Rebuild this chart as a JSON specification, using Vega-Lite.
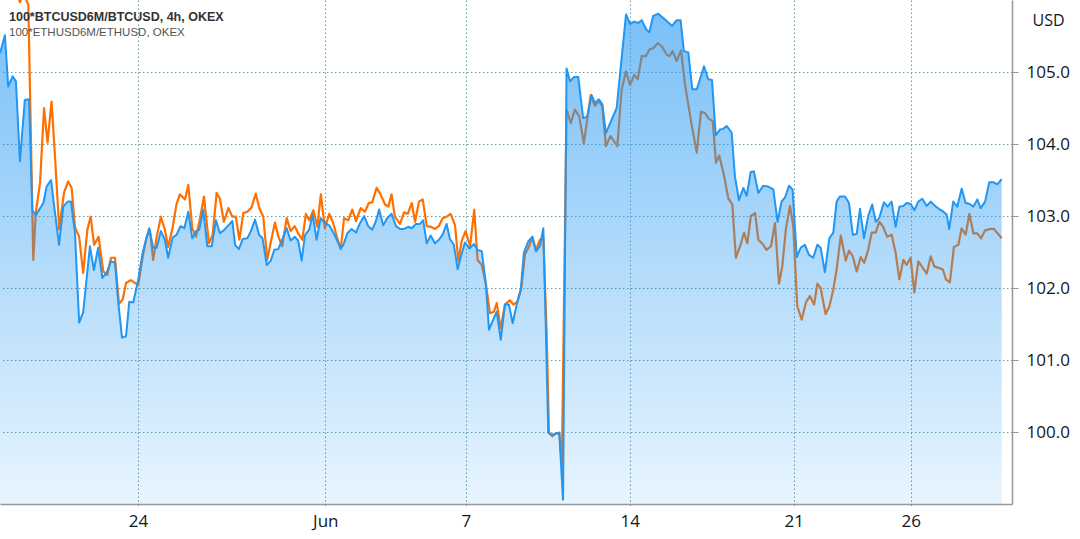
{
  "$schema": "https://vega.github.io/schema/vega-lite/v6.json",
  "width": 1012,
  "height": 504,
  "autosize": {"type": "none"},
  "padding": {"left": 0, "top": 0, "right": 68, "bottom": 35},
  "background": "#ffffff",
  "config": {"view": {"stroke": null}},
  "title": {
    "text": "100*BTCUSD6M/BTCUSD, 4h, OKEX",
    "subtitle": "100*ETHUSD6M/ETHUSD, OKEX",
    "anchor": "start",
    "orient": "top",
    "frame": "group",
    "offset": -38,
    "dx": 9,
    "font": "Liberation Sans",
    "fontSize": 12.5,
    "fontWeight": "bold",
    "color": "#333333",
    "subtitleFont": "Liberation Sans",
    "subtitleFontSize": 11.5,
    "subtitleColor": "#555555",
    "subtitlePadding": 3
  },
  "datasets": {
    "btc": [
      {"day": -5.89, "v": 105.26}, {"day": -5.68, "v": 105.51}, {"day": -5.54, "v": 104.80}, {"day": -5.35, "v": 104.94}, {"day": -5.21, "v": 104.87},
      {"day": -5.04, "v": 103.76}, {"day": -4.83, "v": 104.61}, {"day": -4.65, "v": 104.62}, {"day": -4.51, "v": 103.08}, {"day": -4.36, "v": 103.01},
      {"day": -4.04, "v": 103.18}, {"day": -3.90, "v": 103.41}, {"day": -3.71, "v": 103.50}, {"day": -3.54, "v": 103.04}, {"day": -3.37, "v": 102.60},
      {"day": -3.19, "v": 103.13}, {"day": -3.00, "v": 103.20}, {"day": -2.86, "v": 103.20}, {"day": -2.69, "v": 102.77}, {"day": -2.51, "v": 101.52},
      {"day": -2.34, "v": 101.66}, {"day": -2.05, "v": 102.58}, {"day": -1.88, "v": 102.25}, {"day": -1.70, "v": 102.56}, {"day": -1.52, "v": 102.14},
      {"day": -1.34, "v": 102.21}, {"day": -1.15, "v": 102.37}, {"day": -0.98, "v": 102.35}, {"day": -0.84, "v": 101.80}, {"day": -0.68, "v": 101.31},
      {"day": -0.51, "v": 101.33}, {"day": -0.37, "v": 101.81}, {"day": -0.20, "v": 101.80}, {"day": 0.01, "v": 102.11}, {"day": 0.20, "v": 102.49},
      {"day": 0.37, "v": 102.70}, {"day": 0.48, "v": 102.83}, {"day": 0.65, "v": 102.56}, {"day": 0.80, "v": 102.56}, {"day": 0.98, "v": 102.79},
      {"day": 1.15, "v": 102.67}, {"day": 1.29, "v": 102.42}, {"day": 1.48, "v": 102.70}, {"day": 1.65, "v": 102.74}, {"day": 1.82, "v": 102.86},
      {"day": 1.98, "v": 102.83}, {"day": 2.15, "v": 103.06}, {"day": 2.32, "v": 102.69}, {"day": 2.48, "v": 102.79}, {"day": 2.62, "v": 102.81},
      {"day": 2.79, "v": 103.09}, {"day": 2.96, "v": 102.58}, {"day": 3.15, "v": 102.58}, {"day": 3.33, "v": 102.94}, {"day": 3.50, "v": 102.76},
      {"day": 3.69, "v": 102.81}, {"day": 3.86, "v": 102.87}, {"day": 4.03, "v": 102.93}, {"day": 4.15, "v": 102.60}, {"day": 4.31, "v": 102.54},
      {"day": 4.47, "v": 102.68}, {"day": 4.67, "v": 102.69}, {"day": 4.82, "v": 102.79}, {"day": 5.00, "v": 102.95}, {"day": 5.17, "v": 102.74},
      {"day": 5.32, "v": 102.69}, {"day": 5.50, "v": 102.32}, {"day": 5.67, "v": 102.38}, {"day": 5.82, "v": 102.53}, {"day": 5.99, "v": 102.54},
      {"day": 6.18, "v": 102.69}, {"day": 6.35, "v": 102.83}, {"day": 6.52, "v": 102.66}, {"day": 6.70, "v": 102.71}, {"day": 6.84, "v": 102.66},
      {"day": 6.99, "v": 102.38}, {"day": 7.13, "v": 102.73}, {"day": 7.31, "v": 102.81}, {"day": 7.46, "v": 103.02}, {"day": 7.63, "v": 102.67},
      {"day": 7.80, "v": 102.97}, {"day": 7.98, "v": 102.90}, {"day": 8.17, "v": 102.87}, {"day": 8.34, "v": 102.77}, {"day": 8.48, "v": 102.68},
      {"day": 8.66, "v": 102.55}, {"day": 8.77, "v": 102.60}, {"day": 8.94, "v": 102.76}, {"day": 9.12, "v": 102.82}, {"day": 9.31, "v": 102.77},
      {"day": 9.48, "v": 102.90}, {"day": 9.66, "v": 103.00}, {"day": 9.83, "v": 102.86}, {"day": 10.00, "v": 102.81}, {"day": 10.15, "v": 102.92},
      {"day": 10.30, "v": 103.09}, {"day": 10.47, "v": 102.87}, {"day": 10.64, "v": 102.97}, {"day": 10.83, "v": 103.03}, {"day": 11.02, "v": 102.86},
      {"day": 11.19, "v": 102.82}, {"day": 11.36, "v": 102.82}, {"day": 11.54, "v": 102.85}, {"day": 11.69, "v": 102.83}, {"day": 11.87, "v": 102.89},
      {"day": 12.04, "v": 102.89}, {"day": 12.18, "v": 102.94}, {"day": 12.33, "v": 102.62}, {"day": 12.50, "v": 102.73}, {"day": 12.68, "v": 102.62},
      {"day": 12.85, "v": 102.67}, {"day": 13.01, "v": 102.74}, {"day": 13.18, "v": 102.89}, {"day": 13.32, "v": 102.68}, {"day": 13.49, "v": 102.60},
      {"day": 13.65, "v": 102.26}, {"day": 13.79, "v": 102.44}, {"day": 13.96, "v": 102.63}, {"day": 14.15, "v": 102.55}, {"day": 14.35, "v": 102.61},
      {"day": 14.50, "v": 102.53}, {"day": 14.68, "v": 102.51}, {"day": 14.85, "v": 102.07}, {"day": 14.99, "v": 101.42}, {"day": 15.17, "v": 101.56},
      {"day": 15.32, "v": 101.67}, {"day": 15.49, "v": 101.28}, {"day": 15.67, "v": 101.77}, {"day": 15.84, "v": 101.77}, {"day": 16.00, "v": 101.51},
      {"day": 16.17, "v": 101.77}, {"day": 16.34, "v": 101.96}, {"day": 16.48, "v": 102.49}, {"day": 16.67, "v": 102.65}, {"day": 16.84, "v": 102.71},
      {"day": 16.99, "v": 102.51}, {"day": 17.16, "v": 102.58}, {"day": 17.31, "v": 102.83}, {"day": 17.42, "v": 101.38}, {"day": 17.52, "v": 99.99},
      {"day": 17.66, "v": 99.96}, {"day": 17.85, "v": 99.98}, {"day": 17.99, "v": 99.99}, {"day": 18.15, "v": 99.06}, {"day": 18.30, "v": 105.05},
      {"day": 18.45, "v": 104.87}, {"day": 18.62, "v": 104.93}, {"day": 18.80, "v": 104.93}, {"day": 19.01, "v": 104.36}, {"day": 19.18, "v": 104.38},
      {"day": 19.37, "v": 104.68}, {"day": 19.51, "v": 104.57}, {"day": 19.68, "v": 104.62}, {"day": 19.83, "v": 104.55}, {"day": 19.98, "v": 104.15},
      {"day": 20.44, "v": 104.50}, {"day": 20.84, "v": 105.80}, {"day": 21.01, "v": 105.67}, {"day": 21.19, "v": 105.70}, {"day": 21.36, "v": 105.68},
      {"day": 21.51, "v": 105.72}, {"day": 21.69, "v": 105.60}, {"day": 21.83, "v": 105.55}, {"day": 22.00, "v": 105.78}, {"day": 22.22, "v": 105.81},
      {"day": 22.43, "v": 105.75}, {"day": 22.60, "v": 105.70}, {"day": 22.81, "v": 105.64}, {"day": 23.00, "v": 105.72}, {"day": 23.17, "v": 105.72},
      {"day": 23.31, "v": 105.29}, {"day": 23.50, "v": 105.27}, {"day": 23.67, "v": 104.76}, {"day": 23.86, "v": 104.76}, {"day": 24.17, "v": 105.08},
      {"day": 24.35, "v": 104.90}, {"day": 24.51, "v": 104.89}, {"day": 24.67, "v": 104.12}, {"day": 24.85, "v": 104.20}, {"day": 24.99, "v": 104.21},
      {"day": 25.14, "v": 104.25}, {"day": 25.35, "v": 104.16}, {"day": 25.49, "v": 103.55}, {"day": 25.66, "v": 103.22}, {"day": 25.85, "v": 103.39},
      {"day": 25.99, "v": 103.28}, {"day": 26.16, "v": 103.61}, {"day": 26.30, "v": 103.62}, {"day": 26.49, "v": 103.32}, {"day": 26.70, "v": 103.42},
      {"day": 26.89, "v": 103.41}, {"day": 27.13, "v": 103.37}, {"day": 27.31, "v": 102.92}, {"day": 27.48, "v": 103.20}, {"day": 27.63, "v": 103.26},
      {"day": 27.80, "v": 103.42}, {"day": 27.95, "v": 103.37}, {"day": 28.13, "v": 102.43}, {"day": 28.30, "v": 102.56}, {"day": 28.48, "v": 102.60},
      {"day": 28.65, "v": 102.46}, {"day": 28.83, "v": 102.42}, {"day": 29.01, "v": 102.60}, {"day": 29.15, "v": 102.56}, {"day": 29.33, "v": 102.22},
      {"day": 29.52, "v": 102.69}, {"day": 29.69, "v": 102.77}, {"day": 29.83, "v": 103.20}, {"day": 29.97, "v": 103.27}, {"day": 30.19, "v": 103.27},
      {"day": 30.36, "v": 103.18}, {"day": 30.52, "v": 102.74}, {"day": 30.69, "v": 102.75}, {"day": 30.83, "v": 103.10}, {"day": 31.00, "v": 102.69},
      {"day": 31.18, "v": 103.00}, {"day": 31.35, "v": 103.16}, {"day": 31.50, "v": 102.92}, {"day": 31.65, "v": 102.97}, {"day": 31.85, "v": 103.19},
      {"day": 32.01, "v": 103.13}, {"day": 32.18, "v": 103.20}, {"day": 32.35, "v": 102.85}, {"day": 32.51, "v": 103.13}, {"day": 32.68, "v": 103.14},
      {"day": 32.82, "v": 103.18}, {"day": 32.99, "v": 103.17}, {"day": 33.15, "v": 103.08}, {"day": 33.32, "v": 103.20}, {"day": 33.49, "v": 103.24},
      {"day": 33.68, "v": 103.14}, {"day": 33.85, "v": 103.20}, {"day": 34.03, "v": 103.14}, {"day": 34.20, "v": 103.10}, {"day": 34.39, "v": 103.06},
      {"day": 34.53, "v": 103.02}, {"day": 34.64, "v": 102.82}, {"day": 34.81, "v": 103.20}, {"day": 34.98, "v": 103.13}, {"day": 35.17, "v": 103.38},
      {"day": 35.34, "v": 103.18}, {"day": 35.50, "v": 103.17}, {"day": 35.67, "v": 103.13}, {"day": 35.84, "v": 103.23}, {"day": 35.98, "v": 103.11},
      {"day": 36.17, "v": 103.20}, {"day": 36.35, "v": 103.47}, {"day": 36.52, "v": 103.47}, {"day": 36.69, "v": 103.44}, {"day": 36.88, "v": 103.51}
    ],
    "eth": [
      {"day": -5.89, "v": 106.56}, {"day": -5.38, "v": 106.42}, {"day": -5.04, "v": 105.97}, {"day": -4.87, "v": 106.08}, {"day": -4.68, "v": 105.93},
      {"day": -4.51, "v": 103.09}, {"day": -4.47, "v": 102.39}, {"day": -4.36, "v": 103.05}, {"day": -4.18, "v": 103.46}, {"day": -4.01, "v": 104.50},
      {"day": -3.86, "v": 104.02}, {"day": -3.69, "v": 104.59}, {"day": -3.54, "v": 103.82}, {"day": -3.36, "v": 102.81}, {"day": -3.16, "v": 103.32},
      {"day": -2.98, "v": 103.48}, {"day": -2.83, "v": 103.39}, {"day": -2.69, "v": 102.85}, {"day": -2.51, "v": 102.71}, {"day": -2.34, "v": 102.21},
      {"day": -2.16, "v": 102.81}, {"day": -2.02, "v": 102.99}, {"day": -1.87, "v": 102.60}, {"day": -1.68, "v": 102.71}, {"day": -1.48, "v": 102.23},
      {"day": -1.31, "v": 102.18}, {"day": -1.15, "v": 102.42}, {"day": -0.98, "v": 102.42}, {"day": -0.81, "v": 101.78}, {"day": -0.65, "v": 101.84},
      {"day": -0.51, "v": 102.07}, {"day": -0.31, "v": 102.11}, {"day": -0.13, "v": 102.07}, {"day": 0.01, "v": 102.04}, {"day": 0.20, "v": 102.43},
      {"day": 0.37, "v": 102.71}, {"day": 0.51, "v": 102.81}, {"day": 0.65, "v": 102.39}, {"day": 0.80, "v": 102.71}, {"day": 0.98, "v": 102.99},
      {"day": 1.15, "v": 102.81}, {"day": 1.29, "v": 102.57}, {"day": 1.48, "v": 102.84}, {"day": 1.65, "v": 103.17}, {"day": 1.79, "v": 103.30},
      {"day": 2.01, "v": 103.23}, {"day": 2.15, "v": 103.43}, {"day": 2.32, "v": 102.83}, {"day": 2.48, "v": 102.71}, {"day": 2.65, "v": 102.97},
      {"day": 2.82, "v": 103.27}, {"day": 3.03, "v": 102.62}, {"day": 3.19, "v": 102.74}, {"day": 3.36, "v": 103.32}, {"day": 3.50, "v": 103.24},
      {"day": 3.67, "v": 102.92}, {"day": 3.86, "v": 103.11}, {"day": 4.03, "v": 102.99}, {"day": 4.18, "v": 102.99}, {"day": 4.33, "v": 102.67},
      {"day": 4.50, "v": 103.04}, {"day": 4.67, "v": 103.06}, {"day": 4.85, "v": 103.12}, {"day": 5.03, "v": 103.31}, {"day": 5.18, "v": 103.11},
      {"day": 5.35, "v": 102.99}, {"day": 5.52, "v": 102.39}, {"day": 5.68, "v": 102.65}, {"day": 5.85, "v": 102.91}, {"day": 5.99, "v": 102.72},
      {"day": 6.16, "v": 102.58}, {"day": 6.35, "v": 102.97}, {"day": 6.52, "v": 102.79}, {"day": 6.69, "v": 102.86}, {"day": 6.84, "v": 102.76},
      {"day": 7.02, "v": 102.67}, {"day": 7.17, "v": 103.03}, {"day": 7.31, "v": 102.94}, {"day": 7.49, "v": 103.08}, {"day": 7.66, "v": 102.85},
      {"day": 7.81, "v": 103.30}, {"day": 7.98, "v": 102.83}, {"day": 8.17, "v": 103.03}, {"day": 8.34, "v": 102.90}, {"day": 8.51, "v": 102.69},
      {"day": 8.66, "v": 102.54}, {"day": 8.80, "v": 102.97}, {"day": 8.98, "v": 102.94}, {"day": 9.15, "v": 103.09}, {"day": 9.31, "v": 102.93},
      {"day": 9.51, "v": 103.11}, {"day": 9.69, "v": 103.06}, {"day": 9.86, "v": 103.18}, {"day": 10.00, "v": 103.19}, {"day": 10.19, "v": 103.39},
      {"day": 10.36, "v": 103.30}, {"day": 10.55, "v": 103.16}, {"day": 10.69, "v": 103.13}, {"day": 10.83, "v": 103.30}, {"day": 10.97, "v": 102.99},
      {"day": 11.19, "v": 102.89}, {"day": 11.36, "v": 103.05}, {"day": 11.52, "v": 103.03}, {"day": 11.69, "v": 103.18}, {"day": 11.83, "v": 102.92},
      {"day": 12.00, "v": 103.20}, {"day": 12.16, "v": 103.23}, {"day": 12.33, "v": 102.86}, {"day": 12.50, "v": 102.85}, {"day": 12.68, "v": 102.82},
      {"day": 12.85, "v": 102.86}, {"day": 13.01, "v": 102.97}, {"day": 13.18, "v": 102.99}, {"day": 13.35, "v": 103.03}, {"day": 13.54, "v": 102.87},
      {"day": 13.68, "v": 102.37}, {"day": 13.82, "v": 102.65}, {"day": 13.99, "v": 102.79}, {"day": 14.18, "v": 102.58}, {"day": 14.36, "v": 103.09},
      {"day": 14.50, "v": 102.39}, {"day": 14.68, "v": 102.32}, {"day": 14.85, "v": 102.07}, {"day": 15.03, "v": 101.65}, {"day": 15.20, "v": 101.67},
      {"day": 15.32, "v": 101.79}, {"day": 15.49, "v": 101.44}, {"day": 15.67, "v": 101.77}, {"day": 15.88, "v": 101.83}, {"day": 16.03, "v": 101.77},
      {"day": 16.20, "v": 101.81}, {"day": 16.38, "v": 102.02}, {"day": 16.52, "v": 102.46}, {"day": 16.70, "v": 102.58}, {"day": 16.84, "v": 102.71},
      {"day": 16.99, "v": 102.53}, {"day": 17.17, "v": 102.67}, {"day": 17.31, "v": 102.69}, {"day": 17.45, "v": 101.38}, {"day": 17.55, "v": 99.99},
      {"day": 17.69, "v": 99.94}, {"day": 17.85, "v": 99.98}, {"day": 17.99, "v": 99.99}, {"day": 18.10, "v": 99.55}, {"day": 18.30, "v": 104.48},
      {"day": 18.48, "v": 104.29}, {"day": 18.66, "v": 104.48}, {"day": 18.84, "v": 104.38}, {"day": 19.04, "v": 104.01}, {"day": 19.33, "v": 104.68},
      {"day": 19.51, "v": 104.53}, {"day": 19.68, "v": 104.60}, {"day": 19.83, "v": 104.52}, {"day": 19.98, "v": 103.97}, {"day": 20.18, "v": 104.11},
      {"day": 20.47, "v": 103.97}, {"day": 20.65, "v": 104.75}, {"day": 20.84, "v": 105.01}, {"day": 21.01, "v": 104.82}, {"day": 21.19, "v": 104.96},
      {"day": 21.34, "v": 104.90}, {"day": 21.51, "v": 105.22}, {"day": 21.68, "v": 105.22}, {"day": 21.86, "v": 105.32}, {"day": 22.00, "v": 105.33},
      {"day": 22.19, "v": 105.40}, {"day": 22.36, "v": 105.36}, {"day": 22.58, "v": 105.24}, {"day": 22.69, "v": 105.22}, {"day": 22.83, "v": 105.29},
      {"day": 23.00, "v": 105.15}, {"day": 23.19, "v": 105.30}, {"day": 23.36, "v": 104.82}, {"day": 23.64, "v": 104.27}, {"day": 23.86, "v": 103.88},
      {"day": 24.04, "v": 104.45}, {"day": 24.21, "v": 104.43}, {"day": 24.38, "v": 104.35}, {"day": 24.54, "v": 104.32}, {"day": 24.68, "v": 103.74},
      {"day": 24.82, "v": 103.84}, {"day": 25.02, "v": 103.57}, {"day": 25.21, "v": 103.24}, {"day": 25.38, "v": 103.16}, {"day": 25.53, "v": 102.42},
      {"day": 25.71, "v": 102.58}, {"day": 25.88, "v": 102.77}, {"day": 26.02, "v": 102.62}, {"day": 26.17, "v": 103.00}, {"day": 26.35, "v": 103.04},
      {"day": 26.49, "v": 102.67}, {"day": 26.70, "v": 102.60}, {"day": 26.84, "v": 102.53}, {"day": 27.03, "v": 102.58}, {"day": 27.20, "v": 102.90},
      {"day": 27.37, "v": 102.06}, {"day": 27.51, "v": 102.30}, {"day": 27.67, "v": 102.83}, {"day": 27.84, "v": 103.14}, {"day": 27.98, "v": 102.86},
      {"day": 28.15, "v": 101.75}, {"day": 28.34, "v": 101.56}, {"day": 28.52, "v": 101.80}, {"day": 28.69, "v": 101.89}, {"day": 28.87, "v": 101.77},
      {"day": 29.01, "v": 102.06}, {"day": 29.15, "v": 102.00}, {"day": 29.36, "v": 101.64}, {"day": 29.52, "v": 101.74}, {"day": 29.69, "v": 101.98},
      {"day": 29.83, "v": 102.25}, {"day": 30.01, "v": 102.73}, {"day": 30.22, "v": 102.38}, {"day": 30.36, "v": 102.52}, {"day": 30.52, "v": 102.44},
      {"day": 30.69, "v": 102.23}, {"day": 30.86, "v": 102.43}, {"day": 31.01, "v": 102.35}, {"day": 31.18, "v": 102.53}, {"day": 31.33, "v": 102.77},
      {"day": 31.50, "v": 102.77}, {"day": 31.65, "v": 102.92}, {"day": 31.82, "v": 102.85}, {"day": 31.99, "v": 102.71}, {"day": 32.18, "v": 102.74},
      {"day": 32.35, "v": 102.49}, {"day": 32.51, "v": 102.12}, {"day": 32.68, "v": 102.39}, {"day": 32.82, "v": 102.32}, {"day": 32.99, "v": 102.42},
      {"day": 33.15, "v": 101.94}, {"day": 33.32, "v": 102.37}, {"day": 33.51, "v": 102.28}, {"day": 33.68, "v": 102.20}, {"day": 33.85, "v": 102.44},
      {"day": 34.00, "v": 102.30}, {"day": 34.18, "v": 102.28}, {"day": 34.36, "v": 102.26}, {"day": 34.50, "v": 102.12}, {"day": 34.67, "v": 102.08},
      {"day": 34.84, "v": 102.57}, {"day": 35.03, "v": 102.60}, {"day": 35.17, "v": 102.83}, {"day": 35.34, "v": 102.74}, {"day": 35.50, "v": 103.03},
      {"day": 35.67, "v": 102.76}, {"day": 35.84, "v": 102.76}, {"day": 36.00, "v": 102.69}, {"day": 36.17, "v": 102.80}, {"day": 36.38, "v": 102.82},
      {"day": 36.55, "v": 102.82}, {"day": 36.88, "v": 102.69}
    ]
  },
  "encoding": {
    "x": {
      "field": "day",
      "type": "quantitative",
      "scale": {"domain": [-5.89, 37.32], "nice": false, "zero": false},
      "axis": {
        "title": null,
        "values": [0, 8, 14, 21, 28, 33],
        "labelExpr": "datum.value == 0 ? '24' : datum.value == 8 ? 'Jun' : datum.value == 14 ? '7' : datum.value == 21 ? '14' : datum.value == 28 ? '21' : '26'",
        "grid": true,
        "gridColor": "#3f8f9a",
        "gridOpacity": 0.85,
        "gridDash": [1.5, 2.5],
        "gridWidth": 1,
        "domainColor": "#9598a1",
        "domainWidth": 1.5,
        "ticks": true,
        "tickSize": 4,
        "tickColor": "#3f8f9a",
        "tickDash": [1.5, 2.5],
        "labelFont": "Open Sans",
        "labelFontSize": 17,
        "labelColor": "#131722",
        "labelPadding": 5,
        "labelFlush": false,
        "labelOverlap": false
      }
    },
    "y": {
      "field": "v",
      "type": "quantitative",
      "scale": {"domain": [99.0, 106.0], "nice": false, "zero": false},
      "axis": {
        "orient": "right",
        "values": [100, 101, 102, 103, 104, 105],
        "format": ".1f",
        "grid": true,
        "gridColor": "#3f8f9a",
        "gridOpacity": 0.85,
        "gridDash": [1.5, 2.5],
        "gridWidth": 1,
        "domainColor": "#9598a1",
        "domainWidth": 1.5,
        "tickSize": 6,
        "tickColor": "#9598a1",
        "labelFont": "Open Sans",
        "labelFontSize": 17,
        "labelColor": "#131722",
        "labelPadding": 8,
        "labelBaseline": "middle",
        "title": "USD",
        "titleAngle": 0,
        "titleX": 36,
        "titleY": 25,
        "titleAlign": "center",
        "titleBaseline": "alphabetic",
        "titleFont": "Open Sans",
        "titleFontSize": 16,
        "titleFontWeight": "normal",
        "titleColor": "#131722"
      }
    }
  },
  "layer": [
    {
      "data": {"name": "eth"},
      "mark": {"type": "line", "color": "#ff7000", "strokeWidth": 2.2, "clip": true, "strokeJoin": "round"}
    },
    {
      "data": {"name": "btc"},
      "mark": {
        "type": "area",
        "clip": true,
        "line": false,
        "color": {
          "x1": 0, "y1": 0, "x2": 0, "y2": 1,
          "gradient": "linear",
          "stops": [
            {"offset": 0, "color": "rgba(33,150,243,0.6)"},
            {"offset": 1, "color": "rgba(33,150,243,0.1)"}
          ]
        }
      },
      "encoding": {"y2": {"datum": 99}}
    },
    {
      "data": {"name": "btc"},
      "mark": {"type": "line", "color": "#2196f3", "strokeWidth": 2, "clip": true, "strokeJoin": "round"}
    }
  ]
}
